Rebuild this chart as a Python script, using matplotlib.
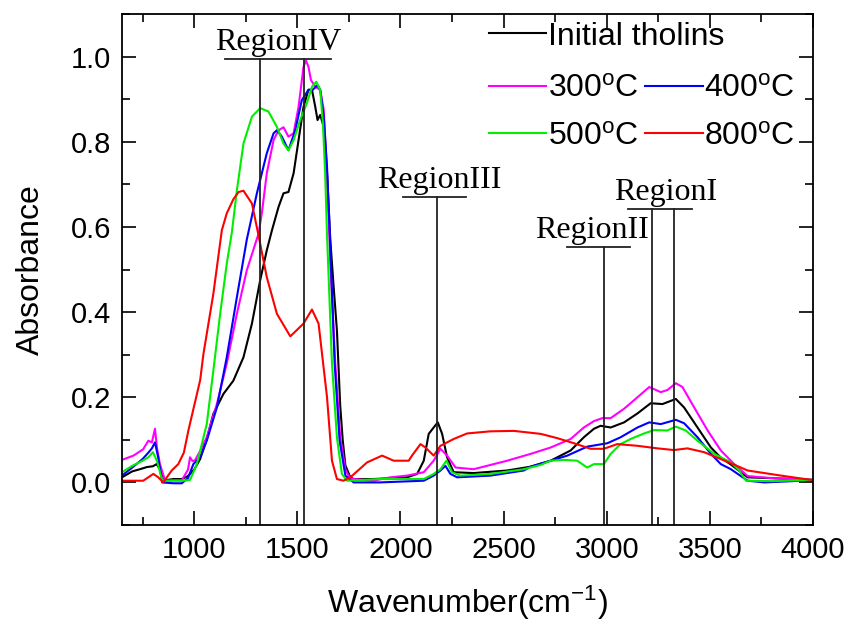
import numpy as np
import matplotlib
matplotlib.use("Agg")
import matplotlib.pyplot as plt
from matplotlib.ticker import MultipleLocator

plt.rcParams['font.family'] = ['Liberation Sans', 'DejaVu Sans']
plt.rcParams['mathtext.fontset'] = 'custom'
plt.rcParams['mathtext.rm'] = 'Liberation Sans'
plt.rcParams['mathtext.it'] = 'Liberation Sans:italic'

# ---- data ----
wn_init = [650, 700, 737, 770, 800, 818, 835, 859, 900, 940, 970, 1000, 1029, 1060, 1093, 1142, 1190,
           1239, 1280, 1320, 1352, 1377, 1409, 1433, 1457, 1482, 1506, 1530, 1554, 1571, 1587, 1598,
           1611, 1628, 1644, 1660, 1676, 1692, 1708, 1720, 1733, 1757, 1773, 1870, 2032, 2081, 2113,
           2137, 2161, 2181, 2202, 2226, 2258, 2355, 2517, 2631, 2728, 2825, 2889, 2938, 2970, 3019,
           3084, 3149, 3213, 3270, 3335, 3375, 3440, 3505, 3553, 3602, 3683, 3800, 4000]
ab_init = [0.012, 0.026, 0.031, 0.036, 0.038, 0.043, 0.03, 0.005, 0.008, 0.008, 0.015, 0.03, 0.055, 0.1,
           0.161, 0.208, 0.239, 0.294, 0.373, 0.475, 0.545, 0.592, 0.647, 0.679, 0.682, 0.726, 0.804,
           0.882, 0.922, 0.922, 0.882, 0.851, 0.863, 0.835, 0.726, 0.569, 0.46, 0.357, 0.18, 0.1, 0.04,
           0.012, 0.008, 0.008, 0.012, 0.02, 0.051, 0.114, 0.129, 0.141, 0.114, 0.059, 0.024, 0.022,
           0.028, 0.037, 0.051, 0.075, 0.106, 0.126, 0.133, 0.129, 0.141, 0.162, 0.186, 0.184, 0.196,
           0.176, 0.129, 0.082, 0.058, 0.042, 0.012, 0.01, 0.006]

wn_300 = [650, 706, 753, 778, 795, 810, 820, 834, 859, 900, 940, 970, 980, 992, 1004, 1030, 1061, 1110,
          1158, 1207, 1255, 1312, 1328, 1352, 1385, 1409, 1433, 1457, 1482, 1506, 1530, 1542, 1554, 1566,
          1587, 1611, 1628, 1644, 1660, 1684, 1708, 1733, 1757, 1773, 1870, 1951, 2032, 2113, 2161, 2194,
          2226, 2267, 2355, 2517, 2631, 2728, 2825, 2889, 2938, 2979, 3019, 3084, 3149, 3206, 3262, 3294,
          3335, 3367, 3424, 3489, 3553, 3618, 3683, 3800, 4000]
ab_300 = [0.053, 0.063, 0.078, 0.098, 0.094, 0.126, 0.08, 0.043, 0.004, 0.005, 0.005, 0.03, 0.059, 0.05,
          0.052, 0.075, 0.106, 0.184, 0.279, 0.396, 0.498, 0.584, 0.632, 0.726, 0.804, 0.827, 0.834, 0.812,
          0.82, 0.882, 0.976, 0.991, 0.976, 0.945, 0.929, 0.922, 0.875, 0.726, 0.514, 0.279, 0.106, 0.03,
          0.008, 0.008, 0.004, 0.012, 0.016, 0.024, 0.051, 0.079, 0.063, 0.035, 0.031, 0.051, 0.067, 0.082,
          0.102, 0.129, 0.144, 0.151, 0.151, 0.173, 0.2, 0.224, 0.212, 0.217, 0.233, 0.224, 0.176, 0.122,
          0.075, 0.043, 0.015, 0.01, 0.006]

wn_400 = [650, 700, 750, 778, 795, 810, 825, 845, 900, 940, 970, 996, 1030, 1061, 1110, 1158, 1207, 1255,
          1304, 1352, 1385, 1401, 1425, 1457, 1490, 1522, 1554, 1575, 1598, 1611, 1628, 1644, 1660, 1681,
          1705, 1733, 1773, 1900, 2113, 2161, 2194, 2218, 2242, 2275, 2436, 2598, 2631, 2728, 2809, 2905,
          3003, 3067, 3149, 3206, 3262, 3335, 3375, 3440, 3505, 3553, 3602, 3683, 3764, 3900, 4000]
ab_400 = [0.016, 0.035, 0.055, 0.07, 0.08, 0.094, 0.06, 0.0, -0.002, -0.002, 0.01, 0.043, 0.06, 0.098,
          0.176, 0.294, 0.435, 0.57, 0.679, 0.773, 0.82, 0.827, 0.812, 0.78, 0.827, 0.898, 0.922, 0.922,
          0.933, 0.922, 0.859, 0.741, 0.553, 0.279, 0.098, 0.016, 0.0, 0.0, 0.004, 0.016, 0.028, 0.039,
          0.02, 0.012, 0.016, 0.028, 0.037, 0.051, 0.063, 0.084, 0.092, 0.106, 0.129, 0.141, 0.137, 0.147,
          0.139, 0.106, 0.067, 0.043, 0.031, 0.004, 0.0, 0.003, 0.006]

wn_500 = [650, 700, 750, 778, 800, 820, 845, 900, 950, 980, 1013, 1061, 1093, 1126, 1158, 1183, 1207, 1239,
          1280, 1320, 1360, 1401, 1433, 1457, 1482, 1514, 1546, 1571, 1592, 1611, 1624, 1635, 1644, 1668,
          1692, 1716, 1741, 1900, 2113, 2161, 2194, 2223, 2250, 2290, 2436, 2598, 2679, 2728, 2792, 2857,
          2905, 2938, 2986, 3019, 3067, 3116, 3181, 3230, 3294, 3335, 3383, 3440, 3521, 3602, 3642, 3675,
          3800, 4000]
ab_500 = [0.024, 0.039, 0.051, 0.059, 0.071, 0.05, 0.004, 0.004, 0.004, 0.006, 0.043, 0.137, 0.263, 0.396,
          0.514, 0.588, 0.686, 0.796, 0.859, 0.879, 0.871, 0.835, 0.796, 0.78, 0.804, 0.851, 0.89, 0.929,
          0.941, 0.922, 0.843, 0.726, 0.58, 0.279, 0.106, 0.02, 0.004, 0.008, 0.008, 0.02, 0.031, 0.051,
          0.024, 0.016, 0.02, 0.031, 0.041, 0.051, 0.053, 0.051, 0.035, 0.043, 0.043, 0.067, 0.09, 0.102,
          0.115, 0.123, 0.122, 0.131, 0.122, 0.098, 0.067, 0.047, 0.028, 0.004, 0.003, 0.006]

wn_800 = [650, 700, 753, 802, 826, 850, 891, 923, 950, 972, 1000, 1029, 1045, 1093, 1134, 1158, 1190, 1215,
          1239, 1280, 1312, 1352, 1401, 1466, 1530, 1571, 1603, 1644, 1668, 1692, 1724, 1757, 1838, 1911,
          1967, 2040, 2056, 2097, 2121, 2161, 2194, 2258, 2323, 2436, 2550, 2680, 2760, 2841, 2922, 2986,
          3051, 3149, 3246, 3326, 3391, 3472, 3537, 3602, 3683, 3845, 3990]
ab_800 = [0.004, 0.004, 0.004, 0.02, 0.012, 0.0, 0.028, 0.043, 0.07, 0.122, 0.18, 0.24, 0.302, 0.443, 0.592,
          0.632, 0.665, 0.682, 0.685, 0.655, 0.58, 0.482, 0.396, 0.343, 0.373, 0.406, 0.373, 0.2, 0.051,
          0.008, 0.004, 0.012, 0.047, 0.063, 0.051, 0.051, 0.063, 0.09, 0.082, 0.063, 0.086, 0.102, 0.115,
          0.12, 0.121, 0.114, 0.104, 0.092, 0.079, 0.079, 0.09, 0.086, 0.08, 0.076, 0.08, 0.071, 0.058,
          0.045, 0.028, 0.016, 0.006]

# region markers
region_names = ['RegionIV', 'RegionIII', 'RegionII', 'RegionI']
region_bar_left = [1150, 2014, 2809, 3105]
region_bar_right = [1665, 2320, 3113, 3411]
region_bar_y = [0.995, 0.671, 0.553, 0.642]
region_text_x = [1407, 2190, 2930, 3286]
region_lines = [[1320, 1530], [2178], [2986], [3218, 3326]]

fig = plt.figure(figsize=(8.5, 6.28), dpi=100)
ax = fig.add_axes([0.1435, 0.164, 0.813, 0.8137])

l0, = ax.plot(wn_init, ab_init, color='black', lw=1.5, label='Initial tholins')
l3, = ax.plot(wn_300, ab_300, color='#ff00ff', lw=1.5, label='300$^{\\rm o}$C')
l4, = ax.plot(wn_400, ab_400, color='#0000ff', lw=1.5, label='400$^{\\rm o}$C')
l5, = ax.plot(wn_500, ab_500, color='#00ee00', lw=1.5, label='500$^{\\rm o}$C')
l8, = ax.plot(wn_800, ab_800, color='#ff0000', lw=1.5, label='800$^{\\rm o}$C')

for name, x0, x1, yb, xt, lines in zip(region_names, region_bar_left, region_bar_right,
                                        region_bar_y, region_text_x, region_lines):
    ax.plot([x0, x1], [yb, yb], color='#222222', lw=1.3)
    for xl in lines:
        ax.plot([xl, xl], [-0.1, yb], color='#222222', lw=1.3)
    ax.text(xt, yb + 0.004, name, ha='center', va='bottom', fontsize=23,
            family='Liberation Serif')

ax.set_xlim(650, 4000)
ax.set_ylim(-0.1, 1.1)
ax.xaxis.set_major_locator(MultipleLocator(500))
ax.xaxis.set_minor_locator(MultipleLocator(250))
ax.yaxis.set_major_locator(MultipleLocator(0.2))
ax.yaxis.set_minor_locator(MultipleLocator(0.1))
ax.set_yticks([0.0, 0.2, 0.4, 0.6, 0.8, 1.0])
ax.tick_params(which='both', direction='in', top=True, right=True, labelsize=21, width=1.2)
ax.tick_params(which='major', length=10, pad=8)
ax.tick_params(which='minor', length=6)
for s in ax.spines.values():
    s.set_linewidth(1.3)

ax.set_xlabel('Wavenumber(cm$^{-1}$)', fontsize=23, labelpad=14)
ax.set_ylabel('Absorbance', fontsize=23, labelpad=18)

leg1 = ax.legend(handles=[l0], loc='upper left', bbox_to_anchor=(0.531, 0.985), frameon=False,
                 fontsize=23, handlelength=1.8, handletextpad=0.05, borderpad=0, borderaxespad=0)
ax.add_artist(leg1)
ax.legend(handles=[l3, l5, l4, l8], ncol=2, loc='upper left', bbox_to_anchor=(0.531, 0.882),
          frameon=False, fontsize=23, handlelength=1.8, handletextpad=0.05, borderpad=0,
          borderaxespad=0, columnspacing=0.2, labelspacing=0.54)

fig.savefig('out.png', dpi=100)
